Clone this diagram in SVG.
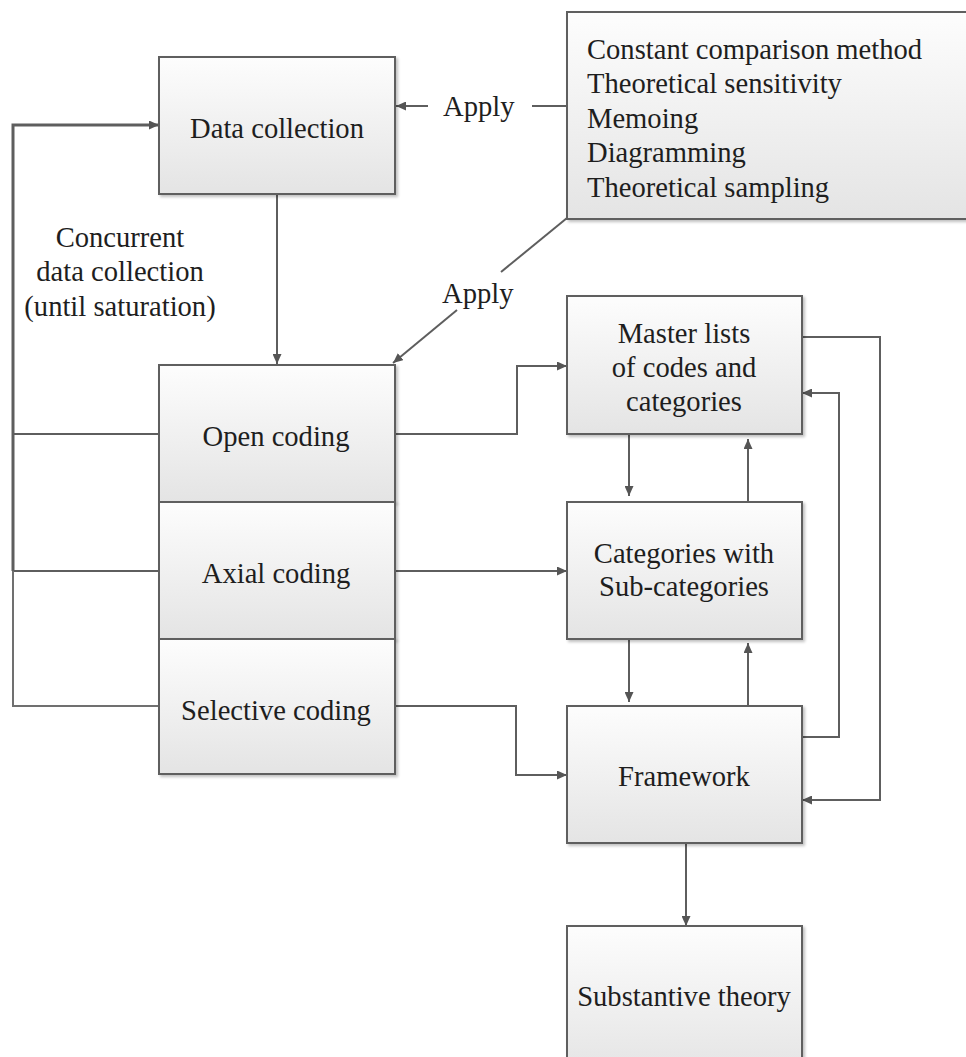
<svg xmlns="http://www.w3.org/2000/svg" width="966" height="1057" viewBox="0 0 966 1057">
<defs>
<linearGradient id="g" x1="0" y1="0" x2="0" y2="1">
<stop offset="0" stop-color="#fdfdfd"/>
<stop offset="1" stop-color="#e4e4e4"/>
</linearGradient>
<marker id="ah" markerUnits="userSpaceOnUse" markerWidth="11" markerHeight="9" refX="10" refY="4.5" orient="auto">
<path d="M0,0 L10,4.5 L0,9 z" fill="#555"/>
</marker>
<filter id="sh" x="-5%" y="-5%" width="115%" height="115%">
<feGaussianBlur in="SourceAlpha" stdDeviation="1.5"/>
<feOffset dx="1.5" dy="2" result="b"/>
<feComponentTransfer><feFuncA type="linear" slope="0.25"/></feComponentTransfer>
<feMerge><feMergeNode/><feMergeNode in="SourceGraphic"/></feMerge>
</filter>
</defs>
<style>
.box{fill:url(#g);stroke:#5e5e5e;stroke-width:2;filter:url(#sh)}
.t{font-family:'Liberation Serif','Times New Roman',serif;font-size:28.6px;fill:#1e1e1e}
.c{text-anchor:middle}
.ln{fill:none;stroke:#5e5e5e;stroke-width:2}
.arr{marker-end:url(#ah)}
</style>
<rect width="966" height="1057" fill="#ffffff"/>

<g id="connectors">
<path class="ln arr" d="M13,571 V125 H159" style="stroke-width:3"/>
<path class="ln" d="M159,434 H13"/>
<path class="ln" d="M159,571 H13"/>
<path class="ln" d="M159,706 H13 V571" style="stroke:#707070"/>
<path class="ln arr" d="M277,194 V364"/>
<path class="ln" d="M567,106 H532"/>
<path class="ln arr" d="M428,106 H396"/>
<path class="ln" d="M567,218 L501,272"/>
<path class="ln arr" d="M457,310 L393,363"/>
<path class="ln arr" d="M395,434 H517 V366 H567"/>
<path class="ln arr" d="M395,571 H567"/>
<path class="ln arr" d="M395,706 H516 V775 H567"/>
<path class="ln arr" d="M629,434 V496"/>
<path class="ln arr" d="M748,502 V439"/>
<path class="ln arr" d="M629,639 V702"/>
<path class="ln arr" d="M748,706 V643"/>
<path class="ln arr" d="M802,337 H880 V800 H802"/>
<path class="ln arr" d="M802,737 H839 V393 H802"/>
<path class="ln arr" d="M686,843 V926"/>
</g>

<g id="label-apply-1"><text class="t" x="443" y="116">Apply</text></g>
<g id="label-apply-2"><text class="t" x="442" y="303">Apply</text></g>
<g id="label-concurrent">
<text class="t c" x="120" y="247">Concurrent</text>
<text class="t c" x="120" y="281">data collection</text>
<text class="t c" x="120" y="316">(until saturation)</text>
</g>

<g id="node-data-collection">
<rect class="box" x="159" y="57" width="236" height="137"/>
<text class="t c" x="277" y="138">Data collection</text>
</g>

<g id="node-methods">
<rect class="box" x="567" y="12" width="420" height="207"/>
<text class="t" x="587" y="59">Constant comparison method</text>
<text class="t" x="587" y="93">Theoretical sensitivity</text>
<text class="t" x="587" y="128">Memoing</text>
<text class="t" x="587" y="162">Diagramming</text>
<text class="t" x="587" y="197">Theoretical sampling</text>
</g>

<g id="node-open-coding">
<rect class="box" x="159" y="365" width="236" height="137"/>
<text class="t c" x="276" y="446">Open coding</text>
</g>
<g id="node-axial-coding">
<rect class="box" x="159" y="502" width="236" height="137"/>
<text class="t c" x="276" y="583">Axial coding</text>
</g>
<g id="node-selective-coding">
<rect class="box" x="159" y="639" width="236" height="135"/>
<text class="t c" x="276" y="720">Selective coding</text>
</g>

<g id="node-master-lists">
<rect class="box" x="567" y="296" width="235" height="138"/>
<text class="t c" x="684" y="343">Master lists</text>
<text class="t c" x="684" y="377">of codes and</text>
<text class="t c" x="684" y="411">categories</text>
</g>

<g id="node-categories">
<rect class="box" x="567" y="502" width="235" height="137"/>
<text class="t c" x="684" y="563">Categories with</text>
<text class="t c" x="684" y="596">Sub-categories</text>
</g>

<g id="node-framework">
<rect class="box" x="567" y="706" width="235" height="137"/>
<text class="t c" x="684" y="786">Framework</text>
</g>

<g id="node-substantive-theory">
<rect class="box" x="567" y="926" width="235" height="150"/>
<text class="t c" x="684" y="1006">Substantive theory</text>
</g>
</svg>
